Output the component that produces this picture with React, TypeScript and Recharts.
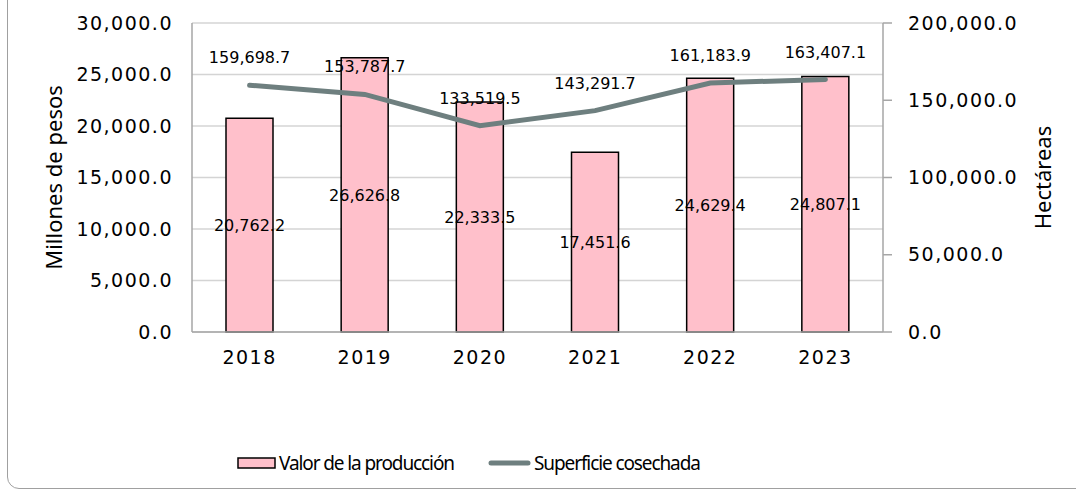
import React from 'react';
import { ComposedChart, Bar, Line, XAxis, YAxis, CartesianGrid, Legend, LabelList, Label } from 'recharts';

const years = ['2018', '2019', '2020', '2021', '2022', '2023'];
const valorProduccion = [20762.2, 26626.8, 22333.5, 17451.6, 24629.4, 24807.1];
const superficieCosechada = [159698.7, 153787.7, 133519.5, 143291.7, 161183.9, 163407.1];
const leftTicks = [0, 5000, 10000, 15000, 20000, 25000, 30000];
const rightTicks = [0, 50000, 100000, 150000, 200000];
const seriesNames = ['Valor de la producción', 'Superficie cosechada'];
const axisTitles = ['Millones de pesos', 'Hectáreas'];

const data = years.map((y, i) => ({ year: y, valor: valorProduccion[i], superficie: superficieCosechada[i] }));

const fmt = (v: any) =>
  Number(v).toLocaleString('en-US', { minimumFractionDigits: 1, maximumFractionDigits: 1 });

const FONT = '"DejaVu Sans", sans-serif';
const TITLE_FONT = '"Noto Sans", sans-serif';
const PINK = '#FFC0CB';
const LINE = '#6E7F7F';
const AXIS = '#A6A6A6';
const GRID = '#D4D4D4';

const tickStyle = { fontSize: 19, fill: '#000', fontFamily: FONT, letterSpacing: 1.5 };

const LegendContent = (props: any) => {
  const payload = [...(props.payload || [])].sort(
    (a: any, b: any) => seriesNames.indexOf(a.value) - seriesNames.indexOf(b.value)
  );
  return (
    <div style={{ position: 'relative', height: 129, width: 1076 }}>
      <div style={{ position: 'absolute', left: 237, top: 90, display: 'flex', alignItems: 'center', height: 22 }}>
        {payload.map((e: any, i: number) => (
          <div key={i} style={{ display: 'flex', alignItems: 'center', marginRight: i === 0 ? 34 : 0 }}>
            <svg width={e.type === 'line' ? 43 : 39} height={12} style={{ marginRight: 3 }}>
              {e.type === 'line' ? (
                <line x1={3} y1={6} x2={40} y2={6} stroke={LINE} strokeWidth={5} strokeLinecap="round" />
              ) : (
                <rect x={1} y={1} width={37} height={10} fill={PINK} stroke="#000" strokeWidth={1.5} />
              )}
            </svg>
            <span
              style={{
                fontSize: 19,
                color: '#000',
                lineHeight: '22px',
                letterSpacing: -1.1,
                fontFamily: TITLE_FONT,
              }}
            >
              {e.value}
            </span>
          </div>
        ))}
      </div>
    </div>
  );
};

export default function App() {
  return (
    <div style={{ position: 'absolute', left: 0, top: 0, width: 1076, height: 491, overflow: 'hidden', background: '#fff' }}>
      <div
        style={{
          position: 'absolute',
          left: 7,
          top: -20,
          width: 1200,
          height: 509,
          border: '1px solid #A0A0A0',
          borderRadius: 12,
          boxSizing: 'border-box',
        }}
      />
      <div style={{ position: 'absolute', left: 0, top: 0 }}>
        <ComposedChart width={1076} height={491} data={data} margin={{ top: 23, right: 0, bottom: 0, left: 0 }}>
          <CartesianGrid vertical={false} stroke={GRID} strokeWidth={1.5} yAxisId="left" />
          <XAxis
            dataKey="year"
            tickLine={false}
            tickSize={0}
            tickMargin={19}
            axisLine={{ stroke: AXIS, strokeWidth: 1.5 }}
            tick={tickStyle}
            height={30}
          />
          <YAxis
            yAxisId="left"
            orientation="left"
            width={192}
            domain={[0, 30000]}
            ticks={leftTicks}
            tickFormatter={fmt}
            tickLine={false}
            tickSize={0}
            tickMargin={19}
            axisLine={{ stroke: AXIS, strokeWidth: 1.5 }}
            tick={tickStyle}
            interval={0}
          >
            <Label
              value={axisTitles[0]}
              angle={-90}
              position="center"
              dx={-42}
              style={{ fontSize: 22, fill: '#000', fontFamily: TITLE_FONT }}
            />
          </YAxis>
          <YAxis
            yAxisId="right"
            orientation="right"
            width={193}
            domain={[0, 200000]}
            ticks={rightTicks}
            tickFormatter={fmt}
            tickSize={9}
            tickMargin={16}
            tickLine={{ stroke: AXIS, strokeWidth: 1.5 }}
            axisLine={{ stroke: AXIS, strokeWidth: 1.5 }}
            tick={tickStyle}
            interval={0}
          >
            <Label
              value={axisTitles[1]}
              angle={-90}
              position="center"
              dx={64}
              style={{ fontSize: 22, fill: '#000', fontFamily: TITLE_FONT }}
            />
          </YAxis>
          <Legend verticalAlign="bottom" height={129} wrapperStyle={{ left: 0, width: 1076 }} content={LegendContent} />
          <Bar
            yAxisId="left"
            dataKey="valor"
            name={seriesNames[0]}
            fill={PINK}
            stroke="#000"
            strokeWidth={1.5}
            barSize={47}
            isAnimationActive={false}
          >
            <LabelList dataKey="valor" position="center" formatter={fmt} style={{ fontSize: 16, fill: '#000', fontFamily: FONT }} />
          </Bar>
          <Line
            yAxisId="right"
            dataKey="superficie"
            name={seriesNames[1]}
            stroke={LINE}
            strokeWidth={5}
            strokeLinecap="round"
            dot={false}
            activeDot={false}
            type="linear"
            isAnimationActive={false}
          >
            <LabelList
              dataKey="superficie"
              position="top"
              offset={22}
              formatter={fmt}
              style={{ fontSize: 16, fill: '#000', fontFamily: FONT }}
            />
          </Line>
        </ComposedChart>
      </div>
    </div>
  );
}
